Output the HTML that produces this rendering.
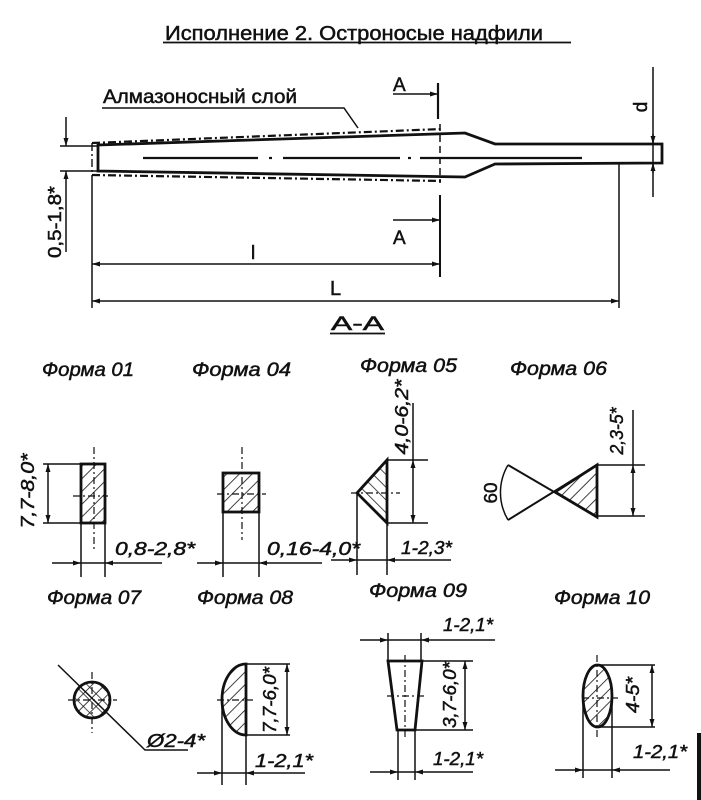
<!DOCTYPE html>
<html><head><meta charset="utf-8"><style>
html,body{margin:0;padding:0;background:#fff;}
svg{display:block;}
text{font-family:"Liberation Sans","DejaVu Sans",sans-serif;fill:#111;stroke:#111;stroke-width:0.5;}
.it{font-style:italic;}
.thk{stroke:#111;stroke-width:2.8;fill:none;stroke-linejoin:miter;}
.thn{stroke:#111;stroke-width:1.5;fill:none;}
.cl{stroke:#111;stroke-width:1.2;fill:none;stroke-dasharray:7 3 2 3;}
.dd{stroke:#111;stroke-width:2.2;fill:none;stroke-dasharray:8 3 2 3;}
</style></head><body>
<svg width="701" height="800" viewBox="0 0 701 800" xmlns="http://www.w3.org/2000/svg">
<defs>
<marker id="a" markerWidth="9" markerHeight="6" refX="8" refY="2.5" orient="auto" markerUnits="userSpaceOnUse">
<path d="M0,0 L8,2.5 L0,5 z" fill="#111"/>
</marker>
<pattern id="h" width="9" height="9" patternUnits="userSpaceOnUse" patternTransform="rotate(45)">
<line x1="0" y1="0" x2="0" y2="9" stroke="#111" stroke-width="1.6"/>
</pattern>
<pattern id="h2" width="9" height="9" patternUnits="userSpaceOnUse" patternTransform="rotate(-45)">
<line x1="0" y1="0" x2="0" y2="9" stroke="#111" stroke-width="1.5"/>
</pattern>
</defs>
<rect width="701" height="800" fill="#fff"/>

<!-- Title -->
<text x="165" y="40" font-size="20" textLength="378" lengthAdjust="spacingAndGlyphs">Исполнение 2. Остроносые надфили</text>
<line x1="163" y1="42.5" x2="571" y2="42.5" stroke="#111" stroke-width="1.8"/>

<!-- Diamond layer label -->
<text x="103" y="103" font-size="19" textLength="194" lengthAdjust="spacingAndGlyphs">Алмазоносный слой</text>
<polyline points="102,108 344,108 358,128" class="thn"/>

<!-- dash-dot diamond layer -->
<line x1="92" y1="143" x2="442" y2="129" class="dd"/>
<line x1="92" y1="175" x2="442" y2="181" class="dd"/>
<line x1="92" y1="143" x2="92" y2="175" class="dd" style="stroke-width:1.4"/>

<!-- body contour -->
<polygon points="98,145 465,133 495,144 662,144 662,163 495,164 465,177 98,171" class="thk"/>

<!-- centerline -->
<g stroke="#111" stroke-width="2.2">
<line x1="143" y1="158" x2="258" y2="158"/>
<line x1="269" y1="158" x2="272" y2="158"/>
<line x1="283" y1="158" x2="400" y2="158"/>
<line x1="408" y1="158" x2="411" y2="158"/>
<line x1="420" y1="158" x2="582" y2="158"/>
</g>

<!-- section A -->
<line x1="438" y1="83" x2="438" y2="119" stroke="#111" stroke-width="2.2"/>
<line x1="440" y1="124" x2="440" y2="183" stroke="#111" stroke-width="1.5" stroke-dasharray="7 4"/>
<line x1="440" y1="195" x2="440" y2="277" stroke="#111" stroke-width="2"/>
<path d="M393,94 L438,94" class="thn" marker-end="url(#a)"/>
<path d="M393,220 L440,220" class="thn" marker-end="url(#a)"/>
<text x="393" y="91" font-size="19">A</text>
<text x="393" y="244" font-size="19">A</text>

<!-- d dimension -->
<line x1="653" y1="67" x2="653" y2="197" class="thn"/>
<path d="M653,134 L653,144" class="thn" marker-end="url(#a)"/>
<path d="M653,173 L653,163" class="thn" marker-end="url(#a)"/>
<text transform="translate(647,107) rotate(-90)" text-anchor="middle" font-size="19">d</text>

<!-- left 0,5-1,8 dimension -->
<line x1="60" y1="146" x2="98" y2="146" class="thn"/>
<line x1="60" y1="171" x2="98" y2="171" class="thn"/>
<line x1="66" y1="117" x2="66" y2="146" class="thn" marker-end="url(#a)"/>
<path d="M66,252 L66,171" class="thn" marker-end="url(#a)"/>
<text transform="translate(61,222) rotate(-90)" text-anchor="middle" font-size="18" textLength="72" lengthAdjust="spacingAndGlyphs">0,5-1,8*</text>

<!-- l and L dimensions -->
<line x1="92" y1="175" x2="92" y2="308" class="thn"/>
<line x1="619" y1="164" x2="619" y2="308" class="thn"/>
<path d="M266,264 L92,264" class="thn" marker-end="url(#a)"/>
<path d="M266,264 L440,264" class="thn" marker-end="url(#a)"/>
<text x="251" y="259" font-size="19">l</text>
<path d="M350,301 L92,301" class="thn" marker-end="url(#a)"/>
<path d="M350,301 L619,301" class="thn" marker-end="url(#a)"/>
<text x="330" y="295" font-size="20">L</text>

<!-- A-A -->
<text x="331" y="330" font-size="19" textLength="53" lengthAdjust="spacingAndGlyphs">A-A</text>
<line x1="330" y1="333.5" x2="385" y2="333.5" stroke="#111" stroke-width="1.8"/>

<!-- Row 2 labels -->
<text class="it" x="42" y="376" font-size="19" textLength="92" lengthAdjust="spacingAndGlyphs">Форма 01</text>
<text class="it" x="192" y="376" font-size="19" textLength="99" lengthAdjust="spacingAndGlyphs">Форма 04</text>
<text class="it" x="360" y="372" font-size="19" textLength="97" lengthAdjust="spacingAndGlyphs">Форма 05</text>
<text class="it" x="510" y="375" font-size="19" textLength="97" lengthAdjust="spacingAndGlyphs">Форма 06</text>

<!-- Form 01 -->
<rect x="81" y="464" width="24" height="59" class="thk" style="fill:url(#h)"/>
<line x1="94" y1="447" x2="94" y2="550" class="cl"/>
<line x1="73" y1="496" x2="108" y2="496" class="cl"/>
<line x1="43" y1="464" x2="81" y2="464" class="thn"/>
<line x1="43" y1="523" x2="81" y2="523" class="thn"/>
<path d="M48,494 L48,464" class="thn" marker-end="url(#a)"/>
<path d="M48,494 L48,523" class="thn" marker-end="url(#a)"/>
<line x1="81" y1="523" x2="81" y2="577" class="thn"/>
<line x1="105" y1="523" x2="105" y2="577" class="thn"/>
<path d="M52,563 L81,563" class="thn" marker-end="url(#a)"/>
<line x1="81" y1="563" x2="105" y2="563" class="thn"/>
<path d="M162,563 L105,563" class="thn" marker-end="url(#a)"/>
<text class="it" transform="translate(34,491) rotate(-90)" text-anchor="middle" font-size="18" textLength="75" lengthAdjust="spacingAndGlyphs">7,7-8,0*</text>
<text class="it" x="115" y="555" font-size="18" textLength="80" lengthAdjust="spacingAndGlyphs">0,8-2,8*</text>

<!-- Form 04 -->
<rect x="223" y="473" width="36" height="39" class="thk" style="fill:url(#h)"/>
<line x1="242" y1="447" x2="242" y2="540" class="cl"/>
<line x1="217" y1="494" x2="266" y2="494" class="cl"/>
<line x1="223" y1="512" x2="223" y2="577" class="thn"/>
<line x1="259" y1="512" x2="259" y2="577" class="thn"/>
<path d="M197,563 L223,563" class="thn" marker-end="url(#a)"/>
<line x1="223" y1="563" x2="259" y2="563" class="thn"/>
<path d="M322,563 L259,563" class="thn" marker-end="url(#a)"/>
<text class="it" x="267" y="555" font-size="18" textLength="93" lengthAdjust="spacingAndGlyphs">0,16-4,0*</text>

<!-- Form 05 -->
<polygon points="387,460 387,523 357,493" class="thk" style="fill:url(#h2)"/>
<line x1="351" y1="493" x2="400" y2="493" class="cl"/>
<line x1="387" y1="460" x2="428" y2="460" class="thn"/>
<line x1="387" y1="523" x2="428" y2="523" class="thn"/>
<line x1="413" y1="403" x2="413" y2="460" class="thn"/>
<path d="M413,490 L413,460" class="thn" marker-end="url(#a)"/>
<path d="M413,490 L413,523" class="thn" marker-end="url(#a)"/>
<line x1="357" y1="493" x2="357" y2="575" class="thn"/>
<line x1="387" y1="523" x2="387" y2="575" class="thn"/>
<path d="M331,560 L357,560" class="thn" marker-end="url(#a)"/>
<line x1="357" y1="560" x2="387" y2="560" class="thn"/>
<path d="M451,560 L387,560" class="thn" marker-end="url(#a)"/>
<text class="it" transform="translate(408,417) rotate(-90)" text-anchor="middle" font-size="18" textLength="75" lengthAdjust="spacingAndGlyphs">4,0-6,2*</text>
<text class="it" x="401" y="554" font-size="18" textLength="51" lengthAdjust="spacingAndGlyphs">1-2,3*</text>

<!-- Form 06 -->
<polygon points="597,465 597,517 555,492" class="thk" style="fill:url(#h)"/>
<line x1="508" y1="465" x2="597" y2="517" stroke="#111" stroke-width="2"/>
<line x1="508" y1="520" x2="597" y2="465" stroke="#111" stroke-width="2"/>
<path d="M508,465 A54,54 0 0 0 508,520" class="thn"/>
<line x1="597" y1="465" x2="645" y2="465" class="thn"/>
<line x1="597" y1="516" x2="645" y2="516" class="thn"/>
<line x1="633" y1="410" x2="633" y2="465" class="thn"/>
<path d="M633,490 L633,465" class="thn" marker-end="url(#a)"/>
<path d="M633,490 L633,516" class="thn" marker-end="url(#a)"/>
<text transform="translate(497,493) rotate(-90)" text-anchor="middle" font-size="18" textLength="21" lengthAdjust="spacingAndGlyphs">60</text>
<text class="it" transform="translate(623,431) rotate(-90)" text-anchor="middle" font-size="18" textLength="47" lengthAdjust="spacingAndGlyphs">2,3-5*</text>

<!-- Row 3 labels -->
<text class="it" x="47" y="604" font-size="19" textLength="94" lengthAdjust="spacingAndGlyphs">Форма 07</text>
<text class="it" x="197" y="604" font-size="19" textLength="96" lengthAdjust="spacingAndGlyphs">Форма 08</text>
<text class="it" x="369" y="597" font-size="19" textLength="98" lengthAdjust="spacingAndGlyphs">Форма 09</text>
<text class="it" x="554" y="604" font-size="19" textLength="96" lengthAdjust="spacingAndGlyphs">Форма 10</text>

<!-- Form 07 -->
<circle cx="92" cy="700" r="18" style="fill:url(#h)"/>
<circle cx="92" cy="700" r="17" fill="url(#h2)"/>
<circle cx="92" cy="700" r="18" class="thk"/>
<line x1="68" y1="700" x2="117" y2="700" class="cl"/>
<line x1="92" y1="672" x2="92" y2="733" class="cl"/>
<polyline points="58,665 145,750 188,750" class="thn"/>
<text class="it" x="147" y="747" font-size="18" textLength="58" lengthAdjust="spacingAndGlyphs">Ø2-4*</text>

<!-- Form 08 -->
<path d="M246,664 L246,735 A24,35.5 0 0 1 246,664 Z" class="thk" style="fill:url(#h)"/>
<line x1="217" y1="700" x2="253" y2="700" class="cl"/>
<line x1="246" y1="664" x2="290" y2="664" class="thn"/>
<line x1="246" y1="735" x2="290" y2="735" class="thn"/>
<path d="M287,700 L287,664" class="thn" marker-end="url(#a)"/>
<path d="M287,700 L287,735" class="thn" marker-end="url(#a)"/>
<line x1="222" y1="700" x2="222" y2="785" class="thn"/>
<line x1="246" y1="735" x2="246" y2="785" class="thn"/>
<path d="M197,773 L222,773" class="thn" marker-end="url(#a)"/>
<line x1="222" y1="773" x2="246" y2="773" class="thn"/>
<path d="M305,773 L246,773" class="thn" marker-end="url(#a)"/>
<text class="it" transform="translate(276,700) rotate(-90)" text-anchor="middle" font-size="18" textLength="66" lengthAdjust="spacingAndGlyphs">7,7-6,0*</text>
<text class="it" x="255" y="767" font-size="18" textLength="58" lengthAdjust="spacingAndGlyphs">1-2,1*</text>

<!-- Form 09 -->
<polygon points="388,661 422,661 415,730 397,730" class="thk"/>
<line x1="405" y1="655" x2="405" y2="738" class="cl"/>
<line x1="387" y1="696" x2="425" y2="696" class="cl"/>
<line x1="388" y1="633" x2="388" y2="661" class="thn"/>
<line x1="421" y1="633" x2="421" y2="661" class="thn"/>
<path d="M360,640 L388,640" class="thn" marker-end="url(#a)"/>
<line x1="388" y1="640" x2="421" y2="640" class="thn"/>
<path d="M495,640 L421,640" class="thn" marker-end="url(#a)"/>
<text class="it" x="443" y="631" font-size="18" textLength="50" lengthAdjust="spacingAndGlyphs">1-2,1*</text>
<line x1="422" y1="661" x2="473" y2="661" class="thn"/>
<line x1="415" y1="730" x2="473" y2="730" class="thn"/>
<path d="M465,695 L465,661" class="thn" marker-end="url(#a)"/>
<path d="M465,695 L465,730" class="thn" marker-end="url(#a)"/>
<text class="it" transform="translate(456,695) rotate(-90)" text-anchor="middle" font-size="18" textLength="66" lengthAdjust="spacingAndGlyphs">3,7-6,0*</text>
<line x1="398" y1="730" x2="398" y2="780" class="thn"/>
<line x1="415" y1="730" x2="415" y2="780" class="thn"/>
<path d="M370,772 L398,772" class="thn" marker-end="url(#a)"/>
<line x1="398" y1="772" x2="415" y2="772" class="thn"/>
<path d="M473,772 L415,772" class="thn" marker-end="url(#a)"/>
<text class="it" x="433" y="765" font-size="18" textLength="50" lengthAdjust="spacingAndGlyphs">1-2,1*</text>

<!-- Form 10 -->
<ellipse cx="597.5" cy="696" rx="14.5" ry="31" class="thk" style="fill:url(#h)"/>
<line x1="597" y1="655" x2="597" y2="740" class="cl"/>
<line x1="582" y1="698" x2="618" y2="698" class="cl"/>
<line x1="597" y1="665" x2="655" y2="665" class="thn"/>
<line x1="597" y1="727" x2="655" y2="727" class="thn"/>
<path d="M652,696 L652,665" class="thn" marker-end="url(#a)"/>
<path d="M652,696 L652,727" class="thn" marker-end="url(#a)"/>
<text class="it" transform="translate(639,695) rotate(-90)" text-anchor="middle" font-size="18" textLength="36" lengthAdjust="spacingAndGlyphs">4-5*</text>
<line x1="583" y1="696" x2="583" y2="778" class="thn"/>
<line x1="612" y1="696" x2="612" y2="778" class="thn"/>
<path d="M555,770 L583,770" class="thn" marker-end="url(#a)"/>
<line x1="583" y1="770" x2="612" y2="770" class="thn"/>
<path d="M670,770 L612,770" class="thn" marker-end="url(#a)"/>
<text class="it" x="633" y="758" font-size="18" textLength="54" lengthAdjust="spacingAndGlyphs">1-2,1*</text>

<!-- right edge bar -->
<rect x="697" y="733" width="4" height="67" fill="#111"/>
</svg>
</body></html>
